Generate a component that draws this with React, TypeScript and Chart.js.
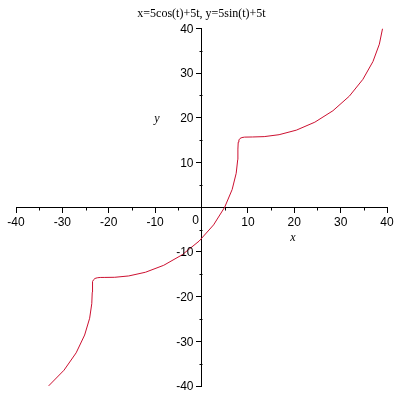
import React, { useEffect, useRef } from 'react';
import { Chart, registerables } from 'chart.js';

Chart.register(...registerables);

const TITLE = 'x=5cos(t)+5t, y=5sin(t)+5t';
const X_LABEL = 'x';
const Y_LABEL = 'y';
const AXIS_MIN = -40;
const AXIS_MAX = 40;
const MAJOR_STEP = 10;
const MINOR_TICKS = [-35, -25, -15, -5, 5, 15, 25, 35];

// points of the curve (t running from about -7.2 to 7.2)
const curveX = [
  -32.96, -29.65, -27.03, -25.2, -24.12, -23.66, -23.56, -23.54, -23.45, -23.27,
  -22.96, -22.48, -21.83, -20.99, -18.71, -15.69, -12.08, -8.15, -4.19, -0.52,
  2.61, 5.0, 6.61, 7.48, 7.81, 7.85, 7.92, 8.06, 8.31, 8.72,
  9.29, 11.01, 13.52, 16.73, 20.46, 24.44, 28.34, 31.88, 34.8, 36.97,
  38.35, 39.04,
];
const curveY = [
  -39.97, -36.47, -32.58, -28.6, -24.84, -21.58, -19.02, -17.24, -16.64, -16.22,
  -15.94, -15.79, -15.72, -15.71, -15.68, -15.38, -14.55, -13.0, -10.66, -7.59,
  -3.95, 0.0, 3.95, 7.59, 10.66, 13.0, 14.55, 15.04, 15.38, 15.58,
  15.68, 15.71, 15.79, 16.22, 17.24, 19.02, 21.58, 24.84, 28.6, 32.58,
  36.47, 39.97,
];

const TICK_FONT = '12px "Liberation Sans", Arial, sans-serif';

const extrasPlugin = {
  id: 'mapleExtras',
  afterDraw(chart: any) {
    const ctx = chart.ctx;
    const xs = chart.scales.x;
    const ys = chart.scales.y;
    const x0 = xs.getPixelForValue(0);
    const y0 = ys.getPixelForValue(0);
    ctx.save();
    ctx.strokeStyle = '#000';
    ctx.lineWidth = 1;
    ctx.beginPath();
    MINOR_TICKS.forEach((v) => {
      const px = Math.round(xs.getPixelForValue(v)) + 0.5;
      ctx.moveTo(px, Math.round(y0) + 0.5);
      ctx.lineTo(px, Math.round(y0) + 3.5);
      const py = Math.round(ys.getPixelForValue(v)) + 0.5;
      ctx.moveTo(Math.round(x0) + 0.5, py);
      ctx.lineTo(Math.round(x0) - 2.5, py);
    });
    ctx.stroke();
    ctx.fillStyle = '#000';
    ctx.font = TICK_FONT;
    // y tick labels, left of the central y axis
    ctx.textAlign = 'right';
    ctx.textBaseline = 'middle';
    ys.ticks.forEach((t: any) => {
      if (t.value === 0) return;
      ctx.fillText(String(t.value), x0 - 8, ys.getPixelForValue(t.value) + 1);
    });
    ctx.textAlign = 'center';
    ctx.fillText('0', x0 - 6, y0 + 13);
    ctx.font = 'italic 12px "Liberation Serif", "Times New Roman", serif';
    ctx.fillText(Y_LABEL, xs.getPixelForValue(-9.6), ys.getPixelForValue(19.7));
    ctx.fillText(X_LABEL, xs.getPixelForValue(19.7), ys.getPixelForValue(-6.9));
    ctx.restore();
  },
};

export default function App() {
  const ref = useRef<HTMLCanvasElement | null>(null);
  useEffect(() => {
    if (!ref.current) return;
    const data = curveX.map((x, i) => ({ x, y: curveY[i] }));
    const chart = new Chart(ref.current, {
      type: 'scatter',
      data: {
        datasets: [
          {
            data,
            showLine: true,
            borderColor: '#cc1030',
            borderWidth: 1,
            pointRadius: 0,
            tension: 0,
            fill: false,
          },
        ],
      },
      options: {
        animation: false,
        responsive: false,
        events: [],
        layout: { padding: { left: 16, right: 13, top: 0, bottom: 14 } },
        plugins: {
          legend: { display: false },
          tooltip: { enabled: false },
          title: {
            display: true,
            text: TITLE,
            color: '#000',
            font: { family: '"Liberation Serif", "Times New Roman", serif', size: 12, weight: 'normal' },
            padding: { top: 7, bottom: 7 },
          },
        },
        scales: {
          x: {
            type: 'linear',
            position: { y: 0 },
            min: AXIS_MIN,
            max: AXIS_MAX,
            grid: { display: true, drawOnChartArea: false, drawTicks: true, tickLength: 5, color: '#000' },
            border: { display: true, color: '#000', width: 1 },
            ticks: {
              stepSize: MAJOR_STEP,
              autoSkip: false,
              maxRotation: 0,
              color: '#000',
              padding: 3,
              font: { family: '"Liberation Sans", Arial, sans-serif', size: 12 },
              callback: (v: any) => (Number(v) === 0 ? '' : String(v)),
            },
          },
          y: {
            type: 'linear',
            position: { x: 0 },
            min: AXIS_MIN,
            max: AXIS_MAX,
            grid: { display: true, drawOnChartArea: false, drawTicks: true, tickLength: 5, color: '#000' },
            border: { display: true, color: '#000', width: 1 },
            ticks: {
              stepSize: MAJOR_STEP,
              autoSkip: false,
              display: false,
            },
          },
        },
      },
      plugins: [extrasPlugin],
    });
    return () => chart.destroy();
  }, []);
  return (
    <div style={{ position: 'fixed', left: 0, top: 0, width: 400, height: 400, background: '#fff' }}>
      <canvas ref={ref} width={400} height={400} />
    </div>
  );
}
